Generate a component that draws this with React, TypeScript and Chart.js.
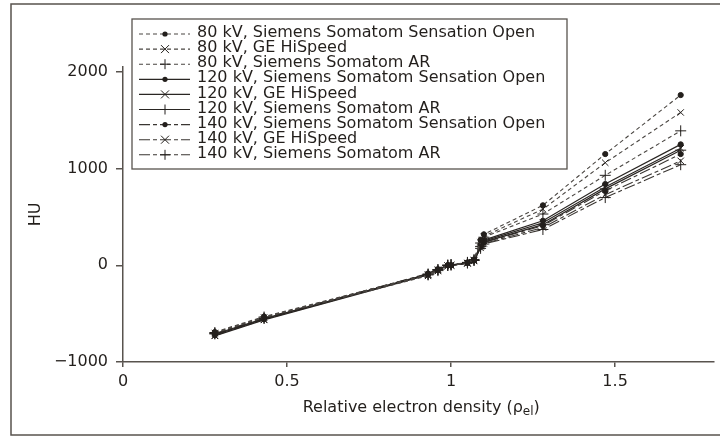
import React, { useEffect, useRef } from 'react';
import { Chart, registerables } from 'chart.js';

Chart.register(...registerables);

// Relative electron densities of the phantom inserts
const densities = [0.28, 0.43, 0.93, 0.96, 0.99, 1.0, 1.05, 1.07, 1.09, 1.1, 1.28, 1.47, 1.7];

// HU values per protocol
const hu80Open = [-690, -530, -95, -50, 0, 0, 30, 60, 260, 320, 620, 1150, 1760];
const hu80GE = [-700, -540, -110, -60, -5, 0, 25, 55, 240, 300, 580, 1060, 1580];
const hu80AR = [-695, -535, -100, -55, 0, 5, 30, 60, 230, 290, 530, 930, 1390];
const hu120Open = [-720, -555, -90, -45, 0, 0, 25, 50, 210, 260, 460, 840, 1250];
const hu120GE = [-730, -565, -100, -50, -5, 0, 20, 45, 200, 250, 440, 810, 1210];
const hu120AR = [-710, -550, -95, -45, 0, 5, 25, 50, 195, 240, 420, 790, 1190];
const hu140Open = [-715, -550, -85, -40, 0, 0, 25, 50, 190, 235, 410, 770, 1150];
const hu140GE = [-725, -560, -95, -45, -5, 0, 20, 45, 180, 225, 390, 730, 1080];
const hu140AR = [-705, -545, -90, -45, 0, 5, 25, 50, 175, 220, 370, 700, 1040];

const seriesLabels = [
  '80 kV, Siemens Somatom Sensation Open',
  '80 kV, GE HiSpeed',
  '80 kV, Siemens Somatom AR',
  '120 kV, Siemens Somatom Sensation Open',
  '120 kV, GE HiSpeed',
  '120 kV, Siemens Somatom AR',
  '140 kV, Siemens Somatom Sensation Open',
  '140 kV, GE HiSpeed',
  '140 kV, Siemens Somatom AR',
];

const xTickValues = [0, 0.5, 1, 1.5];
const yTickValues = [-1000, 0, 1000, 2000];

const xTitleMain = 'Relative electron density (\u03C1';
const xTitleSub = 'el';
const xTitleEnd = ')';
const yTitle = 'HU';

const FONT = '"DejaVu Sans", sans-serif';
const INK = '#231f1c';
const FRAME = '#58534e';

const allValues = [hu80Open, hu80GE, hu80AR, hu120Open, hu120GE, hu120AR, hu140Open, hu140GE, hu140AR];
const markers = ['circle', 'crossRot', 'cross'];
const dashes: number[][] = [[4, 3], [], [11, 3, 4, 3]];
const lineColors = ['#4a4642', '#2a2623', '#3a3632'];
const lineWidths = [1.1, 1.2, 1.1];

function drawMarker(ctx: CanvasRenderingContext2D, style: string, x: number, y: number) {
  ctx.save();
  ctx.setLineDash([]);
  ctx.strokeStyle = INK;
  ctx.fillStyle = INK;
  ctx.lineWidth = 1;
  if (style === 'circle') {
    ctx.beginPath();
    ctx.arc(x, y, 2.6, 0, Math.PI * 2);
    ctx.fill();
  } else if (style === 'crossRot') {
    const r = 4;
    ctx.beginPath();
    ctx.moveTo(x - r, y - r);
    ctx.lineTo(x + r, y + r);
    ctx.moveTo(x + r, y - r);
    ctx.lineTo(x - r, y + r);
    ctx.stroke();
  } else {
    const r = 5;
    ctx.beginPath();
    ctx.moveTo(x - r, y);
    ctx.lineTo(x + r, y);
    ctx.moveTo(x, y - r);
    ctx.lineTo(x, y + r);
    ctx.stroke();
  }
  ctx.restore();
}

const framePlugin = {
  id: 'frameAndLegend',
  afterDraw(chart: any) {
    const ctx: CanvasRenderingContext2D = chart.ctx;
    ctx.save();
    // outer frame
    ctx.strokeStyle = FRAME;
    ctx.lineWidth = 1.5;
    ctx.strokeRect(11, 4, 720, 431);

    // x axis title with subscript
    const area = chart.chartArea;
    const cx = (area.left + area.right) / 2 + 3;
    const ty = 408;
    const mainFont = '16px ' + FONT;
    const subFont = '12px ' + FONT;
    ctx.font = mainFont;
    const w1 = ctx.measureText(xTitleMain).width;
    const w3 = ctx.measureText(xTitleEnd).width;
    ctx.font = subFont;
    const w2 = ctx.measureText(xTitleSub).width;
    let x0 = cx - (w1 + w2 + w3) / 2;
    ctx.fillStyle = INK;
    ctx.textBaseline = 'middle';
    ctx.textAlign = 'left';
    ctx.font = mainFont;
    ctx.fillText(xTitleMain, x0, ty);
    x0 += w1;
    ctx.font = subFont;
    ctx.fillText(xTitleSub, x0, ty + 4);
    x0 += w2;
    ctx.font = mainFont;
    ctx.fillText(xTitleEnd, x0, ty);

    // legend box
    const bx = 132, by = 19, bw = 435, bh = 150;
    ctx.fillStyle = '#ffffff';
    ctx.fillRect(bx, by, bw, bh);
    ctx.strokeStyle = FRAME;
    ctx.lineWidth = 1.3;
    ctx.strokeRect(bx, by, bw, bh);
    ctx.font = '16px ' + FONT;
    ctx.textBaseline = 'middle';
    ctx.textAlign = 'left';
    seriesLabels.forEach((label, i) => {
      const grp = Math.floor(i / 3);
      const y = 33 + i * 15.1;
      ctx.save();
      ctx.strokeStyle = lineColors[grp];
      ctx.lineWidth = lineWidths[grp];
      ctx.setLineDash(dashes[grp]);
      ctx.beginPath();
      ctx.moveTo(139, y + 1);
      ctx.lineTo(190, y + 1);
      ctx.stroke();
      ctx.restore();
      drawMarker(ctx, markers[i % 3], 165, y + 1);
      ctx.fillStyle = INK;
      ctx.fillText(label, 197, y);
    });
    ctx.restore();
  },
};

export default function App() {
  const ref = useRef<HTMLCanvasElement | null>(null);

  useEffect(() => {
    if (!ref.current) return;
    const datasets = allValues.map((vals, i) => {
      const grp = Math.floor(i / 3);
      const style = markers[i % 3];
      return {
        label: seriesLabels[i],
        data: densities.map((x, k) => ({ x, y: vals[k] })),
        showLine: true,
        borderColor: lineColors[grp],
        borderWidth: lineWidths[grp],
        borderDash: dashes[grp],
        backgroundColor: INK,
        pointStyle: style,
        pointRadius: style === 'circle' ? 2.6 : style === 'crossRot' ? 4.5 : 5.5,
        pointBorderColor: INK,
        pointBackgroundColor: INK,
        pointBorderWidth: 1,
        tension: 0,
      };
    });

    const chart = new Chart(ref.current, {
      type: 'scatter',
      data: { datasets },
      options: {
        animation: false,
        responsive: false,
        maintainAspectRatio: false,
        layout: { padding: { top: 67, right: 6, left: 0, bottom: 0 } },
        plugins: { legend: { display: false }, tooltip: { enabled: false } },
        scales: {
          x: {
            type: 'linear',
            min: 0,
            max: 1.8,
            afterFit: (s: any) => { s.height = 75; },
            afterBuildTicks: (s: any) => { s.ticks = xTickValues.map((v) => ({ value: v })); },
            ticks: {
              font: { family: FONT, size: 16 },
              color: INK,
              padding: 5,
              maxRotation: 0,
              callback: (v: any) => String(v),
            },
            grid: { display: true, drawOnChartArea: false, drawTicks: true, tickLength: 5, color: FRAME, lineWidth: 1.5 },
            border: { display: true, color: FRAME, width: 1.5 },
            title: { display: false },
          },
          y: {
            type: 'linear',
            min: -1000,
            max: 2050,
            afterFit: (s: any) => { s.width = 123; },
            afterBuildTicks: (s: any) => { s.ticks = yTickValues.map((v) => ({ value: v })); },
            ticks: {
              font: { family: FONT, size: 16 },
              color: INK,
              padding: 8,
              callback: (v: any) => (v < 0 ? '\u2212' + Math.abs(v) : String(v)),
            },
            grid: { display: true, drawOnChartArea: false, drawTicks: true, tickLength: 7, color: FRAME, lineWidth: 1.5 },
            border: { display: true, color: FRAME, width: 1.5 },
            title: { display: true, text: yTitle, font: { family: FONT, size: 16 }, color: INK, padding: { top: 26, bottom: 0 } },
          },
        },
      },
      plugins: [framePlugin],
    });
    return () => chart.destroy();
  }, []);

  return (
    <div style={{ position: 'absolute', left: 0, top: 0, width: 720, height: 437, background: '#fff' }}>
      <canvas ref={ref} width={720} height={437} />
    </div>
  );
}
